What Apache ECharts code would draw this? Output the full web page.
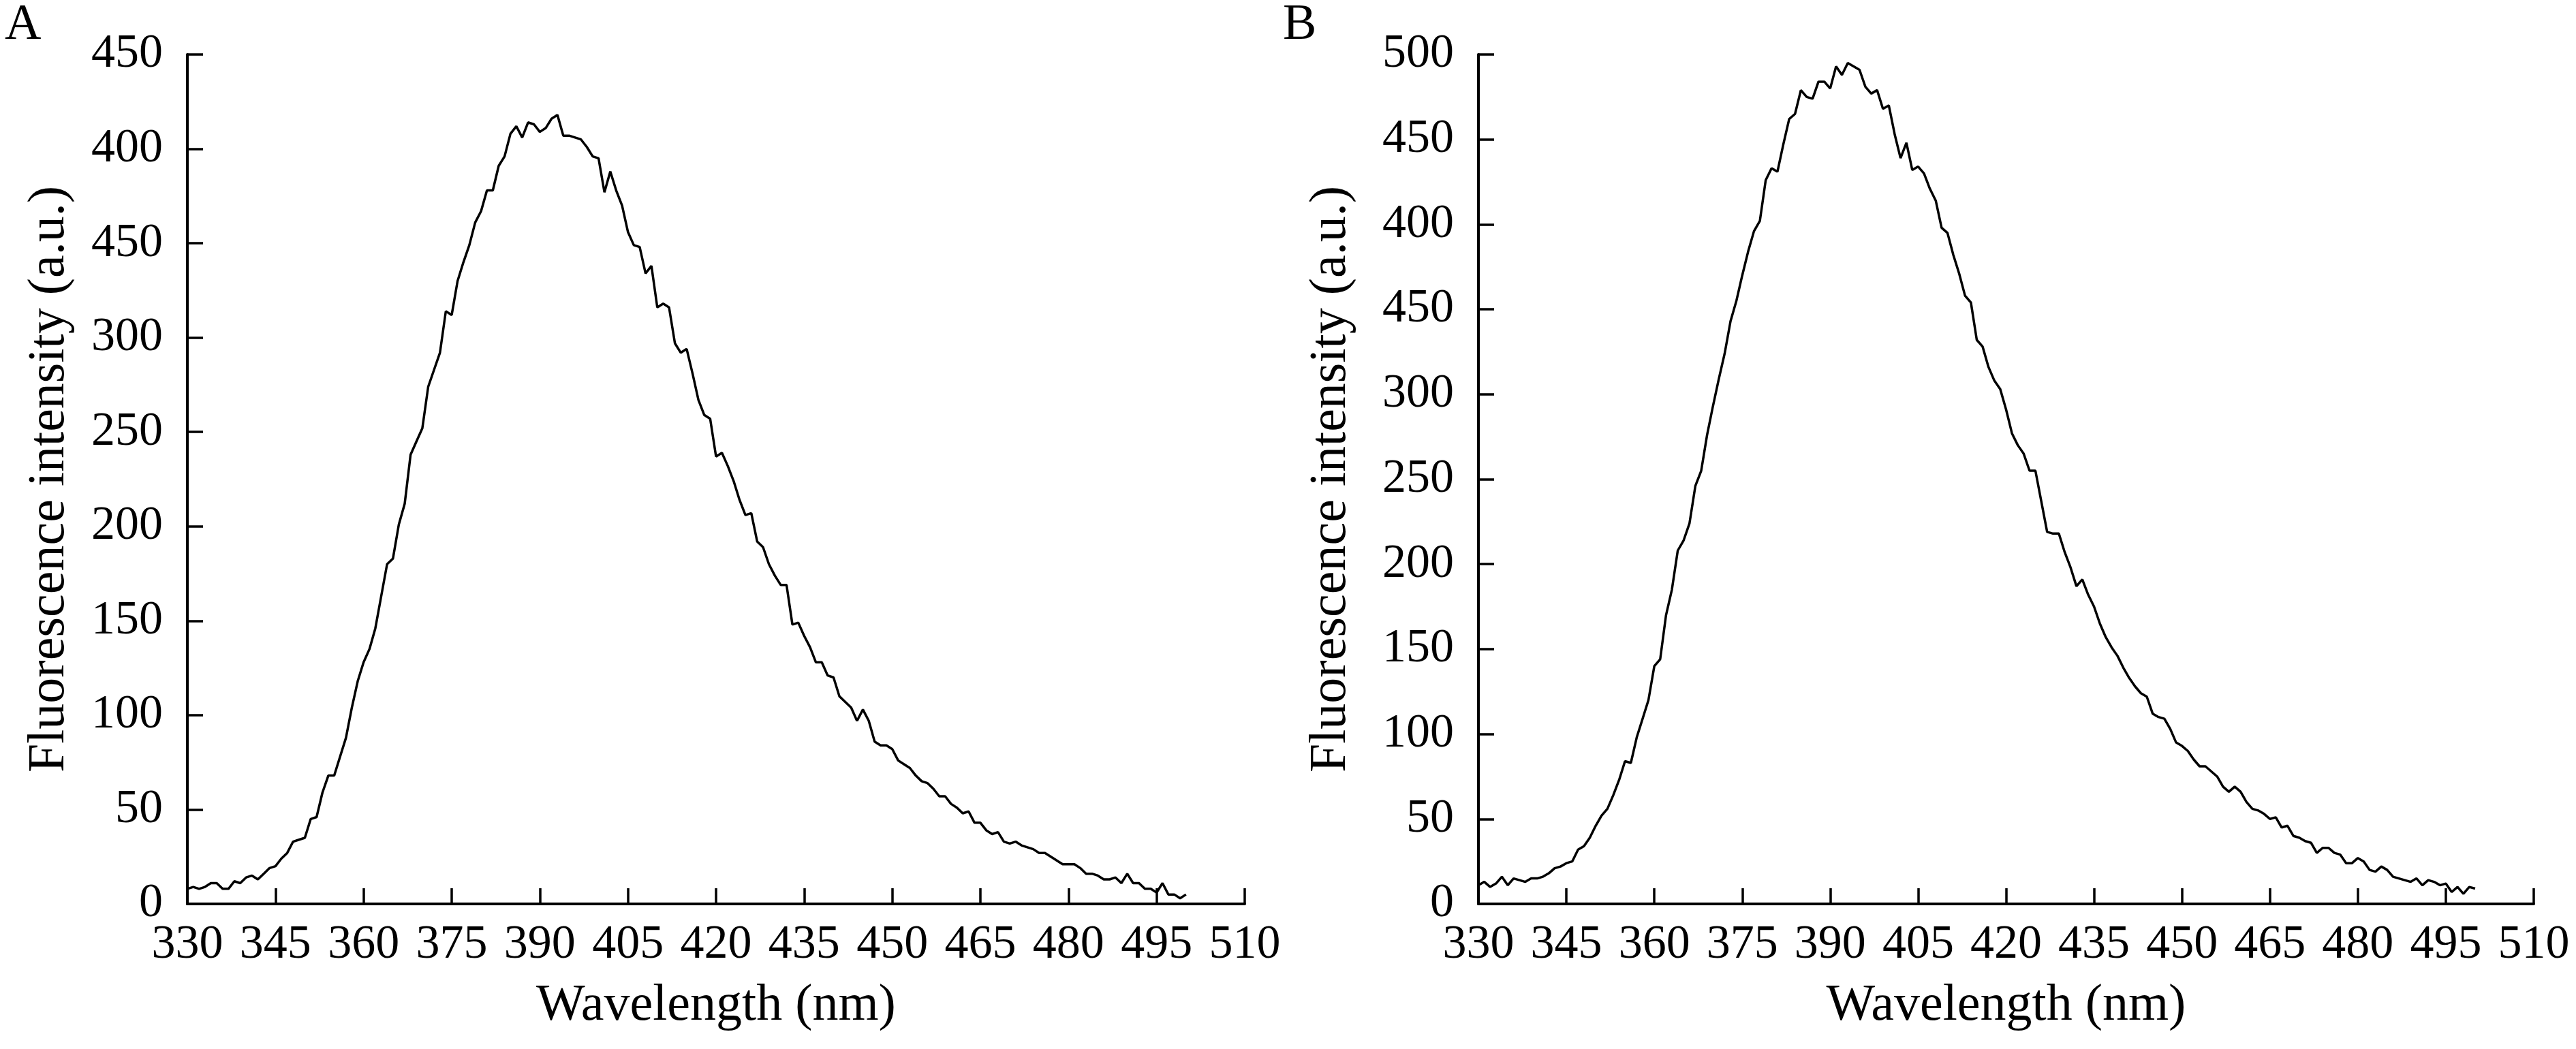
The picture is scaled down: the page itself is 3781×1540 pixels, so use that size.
<!DOCTYPE html>
<html>
<head>
<meta charset="utf-8">
<title>Fluorescence spectra</title>
<script src="https://cdn.jsdelivr.net/npm/echarts@6/dist/echarts.min.js"></script>
<style>
  html, body { margin: 0; padding: 0; background: #fff; }
  #chart { width: 3781px; height: 1540px; }
</style>
</head>
<body>
<div id="chart"></div>
<script>
// emission spectra, 1 nm steps starting at 330 nm
const wlStart = 330;
const wlStep = 1;

// panel A intensities (a.u.), 330..500 nm
const intensityA = [
  8, 9, 8, 9, 11, 11, 8, 8, 12, 11,
  14, 15, 13, 16, 19, 20, 24, 27, 33, 34,
  35, 45, 46, 59, 68, 68, 78, 88, 104, 118,
  128, 135, 146, 163, 180, 183, 201, 212, 238, 245,
  252, 274, 283, 292, 314, 312, 330, 340, 349, 361,
  367, 378, 378, 391, 396, 408, 412, 406, 414, 413,
  409, 411, 416, 418, 407, 407, 406, 405, 401, 396,
  395, 377, 388, 378, 370, 356, 349, 348, 334, 338,
  316, 318, 316, 297, 292, 294, 281, 267, 259, 257,
  237, 239, 232, 224, 214, 206, 207, 192, 189, 180,
  174, 169, 169, 148, 149, 142, 136, 128, 128, 121,
  120, 110, 107, 104, 97, 103, 97, 86, 84, 84,
  82, 76, 74, 72, 68, 65, 64, 61, 57, 57,
  53, 51, 48, 49, 43, 43, 39, 37, 38, 33,
  32, 33, 31, 30, 29, 27, 27, 25, 23, 21,
  21, 21, 19, 16, 16, 15, 13, 13, 14, 11,
  16, 11, 11, 8, 8, 6, 11, 5, 5, 3,
  5
];

// panel B intensities (a.u.), 330..500 nm
const intensityB = [
  11, 13, 10, 12, 16, 11, 15, 14, 13, 15,
  15, 16, 18, 21, 22, 24, 25, 32, 34, 39,
  46, 52, 56, 64, 73, 84, 83, 98, 109, 120,
  140, 144, 170, 185, 208, 214, 224, 246, 255, 276,
  293, 309, 324, 343, 355, 370, 384, 396, 402, 426,
  433, 431, 447, 462, 465, 479, 475, 474, 484, 484,
  480, 493, 488, 495, 493, 491, 481, 477, 479, 468,
  470, 453, 439, 448, 432, 434, 430, 421, 414, 398,
  395, 382, 371, 358, 354, 332, 328, 316, 308, 303,
  291, 277, 270, 265, 255, 255, 237, 219, 218, 218,
  207, 198, 187, 191, 182, 175, 165, 157, 151, 146,
  139, 133, 128, 124, 122, 112, 110, 109, 103, 95,
  93, 90, 85, 81, 81, 78, 75, 69, 66, 69,
  66, 60, 56, 55, 53, 50, 51, 45, 46, 40,
  39, 37, 36, 30, 33, 33, 30, 29, 24, 24,
  27, 25, 20, 19, 22, 20, 16, 15, 14, 13,
  15, 11, 14, 13, 11, 12, 7, 10, 6, 10,
  9
];

// tick labels as printed in the figure (the 350 tick is labelled 450 in the original)
const yTicksA = ['0', '50', '100', '150', '200', '250', '300', '450', '400', '450'];
const yTicksB = ['0', '50', '100', '150', '200', '250', '300', '450', '400', '450', '500'];
const panelLabels = ['A', 'B'];

const FONT = '"Liberation Serif", "Times New Roman", serif';

const toPairs = (vals) => vals.map((v, i) => [wlStart + i * wlStep, v]);

const axisLineStyle = { show: true, lineStyle: { color: '#000', width: 4 } };
const tickStyle = { show: true, inside: true, length: 23, lineStyle: { color: '#000', width: 3.5 } };

const makeX = (gridIndex) => ({
	type: 'value',
	gridIndex,
	min: 330,
	max: 510,
	interval: 15,
	name: 'Wavelength (nm)',
	nameLocation: 'middle',
	nameGap: 112,
	nameTextStyle: { fontFamily: FONT, fontSize: 76, color: '#000' },
	axisLine: axisLineStyle,
	axisTick: tickStyle,
	axisLabel: { fontFamily: FONT, fontSize: 70, color: '#000', margin: 26 },
	splitLine: { show: false },
});

const makeY = (gridIndex, max, ticks, gap) => ({
	type: 'value',
	gridIndex,
	min: 0,
	max,
	interval: 50,
	name: 'Fluorescence intensity (a.u.)',
	nameLocation: 'middle',
	nameRotate: 90,
	nameGap: gap,
	nameTextStyle: { fontFamily: FONT, fontSize: 76, color: '#000' },
	axisLine: axisLineStyle,
	axisTick: tickStyle,
	axisLabel: {
		fontFamily: FONT,
		fontSize: 70,
		color: '#000',
		margin: 36,
		formatter: (v) => ticks[Math.round(v / 50)],
	},
	splitLine: { show: false },
});

const makeLine = (idx, vals) => ({
	type: 'line',
	xAxisIndex: idx,
	yAxisIndex: idx,
	data: toPairs(vals),
	showSymbol: false,
	symbol: 'none',
	lineStyle: { color: '#000', width: 3.5 },
	animation: false,
});

const chart = echarts.init(document.getElementById('chart'));
chart.setOption({
	backgroundColor: '#fff',
	animation: false,
	title: [
		{ text: panelLabels[0], left: 2, top: -4, textStyle: { fontFamily: FONT, fontSize: 74, fontWeight: 'normal', color: '#000' } },
		{ text: panelLabels[1], left: 1878, top: -4, textStyle: { fontFamily: FONT, fontSize: 74, fontWeight: 'normal', color: '#000' } },
	],
	grid: [
		{ left: 275, right: 1954, top: 80, bottom: 213 },
		{ left: 2170, right: 62, top: 80, bottom: 213 },
	],
	xAxis: [makeX(0), makeX(1)],
	yAxis: [makeY(0, 450, yTicksA, 164), makeY(1, 500, yTicksB, 178)],
	series: [makeLine(0, intensityA), makeLine(1, intensityB)],
});
</script>
</body>
</html>
